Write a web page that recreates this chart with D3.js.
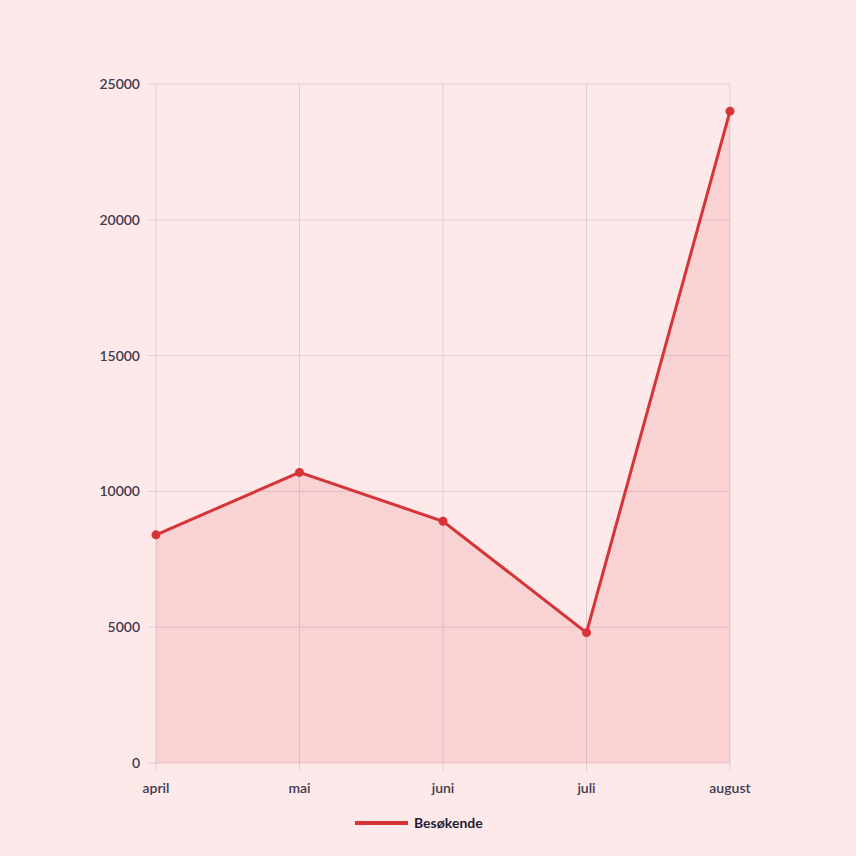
<!DOCTYPE html><html><head><meta charset="utf-8">
<script src="https://cdn.jsdelivr.net/npm/d3@7"></script>
<style>body{margin:0;background:#fde9e9;}svg{display:block;font-family:Lato,"Noto Sans",sans-serif;}</style></head>
<body><svg id="c" width="856" height="856"></svg>
<script>
const months=["april","mai","juni","juli","august"];
const visitors=[8400,10700,8900,4800,24000];
const yTicks=[0,5000,10000,15000,20000,25000];
const seriesName="Besøkende";
const svg=d3.select("#c");
const L=156,R=730,T=84,B=763;
const x=d3.scalePoint().domain(months).range([L,R]);
const y=d3.scaleLinear().domain([0,25000]).range([B,T]);
const g=svg.append("g");
g.selectAll(".hg").data(yTicks).join("line").attr("x1",L-8).attr("x2",R).attr("y1",d=>y(d)).attr("y2",d=>y(d)).attr("stroke","#e3cdd2").attr("stroke-width",1);
g.selectAll(".vg").data(months).join("line").attr("x1",d=>x(d)).attr("x2",d=>x(d)).attr("y1",T).attr("y2",B+8).attr("stroke","#e3cdd2").attr("stroke-width",1);
const data=months.map((m,i)=>({m,v:visitors[i]}));
g.append("path").datum(data).attr("d",d3.area().x(d=>x(d.m)).y0(y(0)).y1(d=>y(d.v))).attr("fill","rgba(220,53,69,0.12)");
g.append("path").datum(data).attr("d",d3.line().x(d=>x(d.m)).y(d=>y(d.v))).attr("fill","none").attr("stroke","#d63437").attr("stroke-width",3);
g.selectAll("circle").data(data).join("circle").attr("cx",d=>x(d.m)).attr("cy",d=>y(d.v)).attr("r",4.5).attr("fill","#d63437");
g.selectAll(".yl").data(yTicks).join("text").attr("x",L-16).attr("y",d=>y(d)).attr("dy","0.35em").attr("text-anchor","end").attr("font-size",14).attr("font-weight",600).attr("fill","#3f3a4f").text(d=>d);
g.selectAll(".xl").data(months).join("text").attr("x",d=>x(d)).attr("y",793).attr("text-anchor","middle").attr("font-size",14).attr("font-weight",600).attr("fill","#3f3a4f").text(d=>d);
g.append("line").attr("x1",355).attr("x2",408).attr("y1",823).attr("y2",823).attr("stroke","#d63437").attr("stroke-width",4);
g.append("text").attr("x",414).attr("y",823).attr("dy","0.35em").attr("font-size",14).attr("font-weight",700).attr("fill","#1f1d33").text(seriesName);
</script></body></html>
